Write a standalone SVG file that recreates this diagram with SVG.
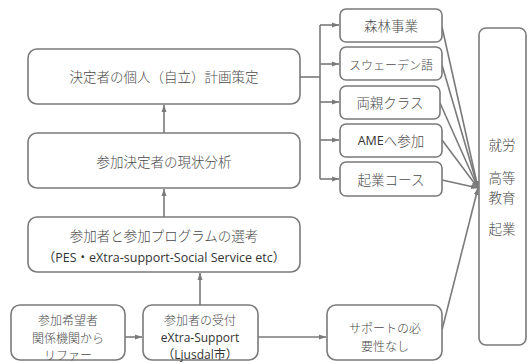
<svg xmlns="http://www.w3.org/2000/svg" width="529" height="364" viewBox="0 0 529 364">
<defs>
<marker id="ah" markerWidth="8" markerHeight="8" refX="7" refY="4" orient="auto" markerUnits="userSpaceOnUse">
<path d="M0,1.5 L7,4 L0,6.5 Z" fill="#7a7a7a"/>
</marker>
<style>
.box{fill:#fff;stroke:#7a7a7a;stroke-width:1.6}
.ln{fill:none;stroke:#7a7a7a;stroke-width:1.6}
.t{font-family:"Noto Sans CJK JP","Noto Sans",sans-serif;font-size:13.5px;font-weight:300;fill:#4a4a4a;text-anchor:middle;dominant-baseline:central}
.m{font-size:12px}
.l{font-family:"Open Sans","Noto Sans CJK JP",sans-serif;font-size:12.5px;font-weight:400;fill:#333}
.ls{font-family:"Open Sans","Noto Sans CJK JP",sans-serif;font-size:12px;font-weight:400;fill:#333}
</style>
</defs>
<rect width="529" height="364" fill="#fff"/>
<g id="connectors">
<line class="ln" x1="164" y1="133" x2="164" y2="105" marker-end="url(#ah)"/>
<line class="ln" x1="164" y1="217" x2="164" y2="189" marker-end="url(#ah)"/>
<line class="ln" x1="200" y1="305" x2="200" y2="273" marker-end="url(#ah)"/>
<line class="ln" x1="125" y1="337" x2="142" y2="337" marker-end="url(#ah)"/>
<line class="ln" x1="258" y1="337" x2="326" y2="337" marker-end="url(#ah)"/>
<polyline class="ln" points="300,77 320,77"/>
<line class="ln" x1="320" y1="25" x2="320" y2="179"/>
<line class="ln" x1="320" y1="25" x2="339" y2="25" marker-end="url(#ah)"/>
<line class="ln" x1="320" y1="64" x2="339" y2="64" marker-end="url(#ah)"/>
<line class="ln" x1="320" y1="102" x2="339" y2="102" marker-end="url(#ah)"/>
<line class="ln" x1="320" y1="140" x2="339" y2="140" marker-end="url(#ah)"/>
<line class="ln" x1="320" y1="179" x2="339" y2="179" marker-end="url(#ah)"/>
<line class="ln" x1="442" y1="27" x2="478" y2="188" marker-end="url(#ah)"/>
<line class="ln" x1="442" y1="65" x2="478" y2="188" marker-end="url(#ah)"/>
<line class="ln" x1="440" y1="103" x2="478" y2="188" marker-end="url(#ah)"/>
<line class="ln" x1="442" y1="140" x2="478" y2="188" marker-end="url(#ah)"/>
<line class="ln" x1="442" y1="180" x2="478" y2="188" marker-end="url(#ah)"/>
<line class="ln" x1="442" y1="330" x2="478" y2="188" marker-end="url(#ah)"/>
</g>
<g id="n1"><rect class="box" x="28" y="49" width="272" height="55" rx="9"/><text class="t" x="164" y="76">決定者の個人（自立）計画策定</text></g>
<g id="n2"><rect class="box" x="28" y="133" width="272" height="55" rx="9"/><text class="t" x="164" y="161">参加決定者の現状分析</text></g>
<g id="n3"><rect class="box" x="28" y="217" width="272" height="55" rx="9"/><text class="t" x="164" y="235">参加者と参加プログラムの選考<tspan class="l" x="164" dy="22">（PES・eXtra-support-Social Service etc）</tspan></text></g>
<g id="n4"><rect class="box" x="11" y="305" width="114" height="55" rx="9"/><text class="t m" x="68" y="319">参加希望者<tspan x="68" dy="17.5">関係機関から</tspan><tspan x="68" dy="17.5">リファー</tspan></text></g>
<g id="n5"><rect class="box" x="143" y="305" width="115" height="55" rx="9"/><text class="t m" x="200" y="319">参加者の受付<tspan class="ls" x="200" dy="17.5">eXtra-Support</tspan><tspan class="ls" x="200" dy="17.5">（Ljusdal市）</tspan></text></g>
<g id="n6"><rect class="box" x="327" y="305" width="115" height="55" rx="9"/><text class="t m" x="385" y="327">サポートの必<tspan x="385" dy="17.5">要性なし</tspan></text></g>
<g id="s1"><rect class="box" x="340" y="9" width="102" height="33" rx="6"/><text class="t" x="391" y="25">森林事業</text></g>
<g id="s2"><rect class="box" x="340" y="47" width="102" height="33" rx="6"/><text class="t" x="391" y="64" style="font-size:12px">スウェーデン語</text></g>
<g id="s3"><rect class="box" x="340" y="86" width="100" height="33" rx="6"/><text class="t" x="390" y="102">両親クラス</text></g>
<g id="s4"><rect class="box" x="340" y="124" width="102" height="33" rx="6"/><text class="t" x="391" y="140"><tspan class="l">AME</tspan>へ参加</text></g>
<g id="s5"><rect class="box" x="340" y="162" width="102" height="34" rx="6"/><text class="t" x="391" y="179">起業コース</text></g>
<g id="out"><rect class="box" x="479" y="28" width="47" height="317" rx="7"/><text class="t" x="502" y="144">就労<tspan x="502" dy="33">高等</tspan><tspan x="502" dy="19.6">教育</tspan><tspan x="502" dy="31.4">起業</tspan></text></g>
</svg>
